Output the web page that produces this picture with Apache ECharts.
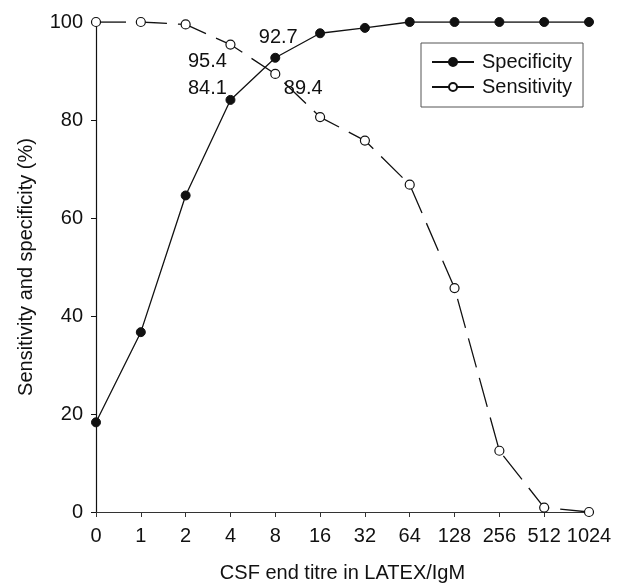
<!DOCTYPE html>
<html>
<head>
<meta charset="utf-8">
<script src="https://cdn.jsdelivr.net/npm/echarts@6/dist/echarts.min.js"></script>
<style>html,body{margin:0;padding:0;background:#fff}#c{width:626px;height:588px}</style>
</head>
<body>
<div id="c"></div>
<script>
var categories = ['0','1','2','4','8','16','32','64','128','256','512','1024'];
var specificity = [18.3, 36.7, 64.6, 84.1, 92.7, 97.7, 98.8, 100, 100, 100, 100, 100];
var sensitivity = [100, 100, 99.5, 95.4, 89.4, 80.6, 75.8, 66.8, 45.7, 12.5, 0.9, 0];
var yTicks = [0, 20, 40, 60, 80, 100];
var specLabels = {3: [-23, -11], 4: [3, -20]};
var sensLabels = {3: [-23, 17], 4: [28, 15]};

var FONT = 'Liberation Sans, Arial, Helvetica, sans-serif';
function withLabels(values, labels) {
  return values.map(function (v, i) {
    if (labels[i]) {
      return {value: v, label: {show: true, position: 'inside', offset: labels[i],
        formatter: String(v.toFixed(1)), color: '#111', fontSize: 20, fontFamily: FONT}};
    }
    return v;
  });
}

var chart = echarts.init(document.getElementById('c'), null, {renderer: 'canvas'});
chart.setOption({
  animation: false,
  backgroundColor: '#fff',
  textStyle: {fontFamily: FONT},
  grid: {left: 96, right: 37, top: 22, bottom: 72, containLabel: false},
  legend: {
    left: 421, top: 43, orient: 'vertical',
    data: [
      {name: 'Specificity', lineStyle: {type: 'solid'}},
      {name: 'Sensitivity', lineStyle: {type: 'solid'}}
    ],
    itemWidth: 42, itemHeight: 10, itemGap: 5,
    padding: [9, 11, 10, 10],
    borderColor: '#555', borderWidth: 1,
    textStyle: {fontSize: 20, color: '#111', fontFamily: FONT, padding: [0, 0, 0, 3]}
  },
  xAxis: {
    type: 'category', data: categories, boundaryGap: false,
    name: 'CSF end titre in LATEX/IgM', nameLocation: 'middle', nameGap: 51,
    nameTextStyle: {fontSize: 20, color: '#111', fontFamily: FONT},
    axisLine: {lineStyle: {color: '#333', width: 1.2}},
    axisTick: {show: true, length: 5, interval: 0, lineStyle: {color: '#333'}},
    axisLabel: {interval: 0, margin: 14, fontSize: 20, color: '#111', fontFamily: FONT},
    splitLine: {show: false}
  },
  yAxis: {
    type: 'value', min: yTicks[0], max: yTicks[yTicks.length - 1], interval: yTicks[1] - yTicks[0],
    name: 'Sensitivity and specificity (%)', nameLocation: 'middle', nameGap: 60,
    nameTextStyle: {fontSize: 20, color: '#111', fontFamily: FONT},
    axisLine: {show: true, lineStyle: {color: '#111', width: 1.2}},
    axisTick: {show: true, length: 5, lineStyle: {color: '#111'}},
    axisLabel: {margin: 13, fontSize: 20, color: '#111', fontFamily: FONT},
    splitLine: {show: false}
  },
  series: [
    {
      name: 'Specificity', type: 'line', data: withLabels(specificity, specLabels),
      symbol: 'circle', symbolSize: 9, showAllSymbol: true,
      lineStyle: {color: '#111', width: 1.3},
      itemStyle: {color: '#111', borderColor: '#111', borderWidth: 1},
      label: {show: false}, z: 3
    },
    {
      name: 'Sensitivity', type: 'line', data: withLabels(sensitivity, sensLabels),
      symbol: 'circle', symbolSize: 9, showAllSymbol: true,
      lineStyle: {color: '#111', width: 1.3, type: [30, 11]},
      itemStyle: {color: '#fff', borderColor: '#111', borderWidth: 1.2},
      label: {show: false}, z: 2
    }
  ]
});
</script>
</body>
</html>
